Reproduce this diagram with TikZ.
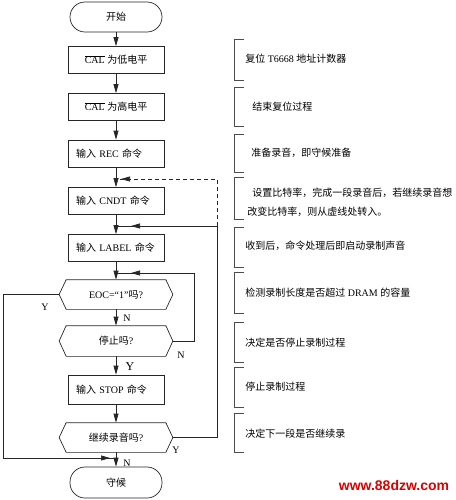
\documentclass[tikz,border=0pt]{standalone}
\usepackage{fontspec}
\setmainfont{Liberation Serif}
\newfontfamily\cjk{Noto Sans CJK SC}
\newfontfamily\wmfont{Liberation Sans}
\usetikzlibrary{arrows.meta,calc,decorations.markings}

\tikzset{
  every node/.style={font=\fontsize{10pt}{12pt}\selectfont},
  term/.style={draw, rounded corners=15pt, minimum width=92pt, minimum height=30pt, inner sep=0pt},
  box/.style={draw, minimum width=96pt, minimum height=27pt, inner sep=0pt},
  cmd/.style={box, text width=80pt, align=left},
  dec/.style={minimum width=113pt, minimum height=29pt, inner sep=0pt},
  flow/.style={-{Triangle[length=9pt,width=5pt]}},
  midarrow/.style={postaction={decorate}, decoration={markings,
      mark=at position #1 with {\arrow{Triangle[length=9pt,width=5pt]}}}},
  brace/.style={draw=black!70, line width=0.6pt},
  note/.style={anchor=west, inner sep=0pt},
}

\begin{document}
\begin{tikzpicture}[x=1pt, y=-1pt, line width=0.7pt, draw=black!85]
        \useasboundingbox (0,0) rectangle (455,500);

        % 绘制流程框
        \node[term] (start) at (116,17) {\cjk 开始};
        \node[box] (cal1) at (116,60) {$\overline{\mbox{CAL}}$ {\cjk 为低电平}};
        \node[box] (cal2) at (116,107) {$\overline{\mbox{CAL}}$ {\cjk 为高电平}};
        \node[cmd] (rec) at (116,153.5) {{\cjk 输入} REC {\cjk 命令}};
        \node[cmd] (cndt) at (116,201) {{\cjk 输入} CNDT {\cjk 命令}};
        \node[cmd] (label) at (116,248) {{\cjk 输入} LABEL {\cjk 命令}};
        \node[dec] (eoc) at (116,294.5) {EOC=“1”{\cjk 吗}?};
        \node[dec, minimum height=30pt] (stopq) at (116,341) {{\cjk 停止吗}?};
        \node[box, text width=80pt, align=left, minimum height=29pt] (stop) at (116,389.5) {{\cjk 输入} STOP {\cjk 命令}};
        \node[dec] (cont) at (116,437.5) {{\cjk 继续录音吗}?};
        \node[term, minimum height=31pt] (wait) at (116,482.5) {\cjk 守候};

        % 绘制判断框
        \foreach \n in {eoc,stopq,cont}
          \draw (\n.west) -- ($(\n.north west)+(7,0)$) -- ($(\n.north east)+(-7,0)$)
            -- (\n.east) -- ($(\n.south east)+(-7,0)$) -- ($(\n.south west)+(7,0)$) -- cycle;

        % 绘制主流程箭头
        \draw[flow] (start) -- (cal1);
        \draw[flow] (cal1) -- (cal2);
        \draw[flow] (cal2) -- (rec);
        \draw[flow] (rec) -- (cndt);
        \draw[flow] (cndt) -- (label);
        \draw[flow] (label) -- (eoc);
        \draw[flow] (eoc) -- (stopq);
        \draw[flow] (stopq) -- (stop);
        \draw[flow] (stop) -- (cont);
        \draw[flow] (cont) -- (wait);

        % 绘制回路
        \coordinate (jC) at (116,179);
        \coordinate (jL) at (116,226);
        \coordinate (jE) at (116,273);
        \coordinate (jW) at (116,458);
        \coordinate (rt) at (217,226);
        \draw[dashed, dash pattern=on 4pt off 3pt, midarrow=-5pt] (rt) |- (jC);
        \draw[midarrow=-15pt] (cont.east) -| (rt) -- (jL);
        \draw[midarrow=-15pt] (stopq.east) -| (194,273) -- (jE);
        \draw[midarrow=-6pt] (eoc.west) -| (3,458) -- (jW);

        % 标注 Y 和 N
        \node (y1) at (45,307) {Y};
        \node (n1) at (127,318) {N};
        \node (n2) at (181,355) {N};
        \node[font=\fontsize{12pt}{14pt}\selectfont] (y2) at (130,367) {Y};
        \node (y3) at (176,450) {Y};
        \node (n3) at (127,463) {N};

        % 绘制右侧说明
        \foreach \t/\b in {39/80, 87/126, 134/172, 177/219, 227/267, 272/313, 322/362, 367/407, 413/452}
          \draw[brace] (244,\t) -- (234,\t) -- (234,\b) -- (244,\b);
        \node[note] (d1) at (245,59) {{\cjk 复位} T6668 {\cjk 地址计数器}};
        \node[note] (d2) at (252,107) {\cjk 结束复位过程};
        \node[note] (d3) at (251,153) {\cjk 准备录音，即守候准备};
        \node[note] (d4a) at (252,193) {\cjk 设置比特率，完成一段录音后，若继续录音想};
        \node[note] (d4b) at (247,212) {\cjk 改变比特率，则从虚线处转入。};
        \node[note] (d5) at (245,246) {\cjk 收到后，命令处理后即启动录制声音};
        \node[note] (d6) at (245,293) {{\cjk 检测录制长度是否超过} DRAM {\cjk 的容量}};
        \node[note] (d7) at (245,343) {\cjk 决定是否停止录制过程};
        \node[note] (d8) at (245,387) {\cjk 停止录制过程};
        \node[note] (d9) at (245,434) {\cjk 决定下一段是否继续录};

        % 水印
        \node[text=red!85!black, font=\wmfont\bfseries\fontsize{14pt}{16pt}\selectfont] (wm) at (394,485) {www.88dzw.com};
\end{tikzpicture}
\end{document}
